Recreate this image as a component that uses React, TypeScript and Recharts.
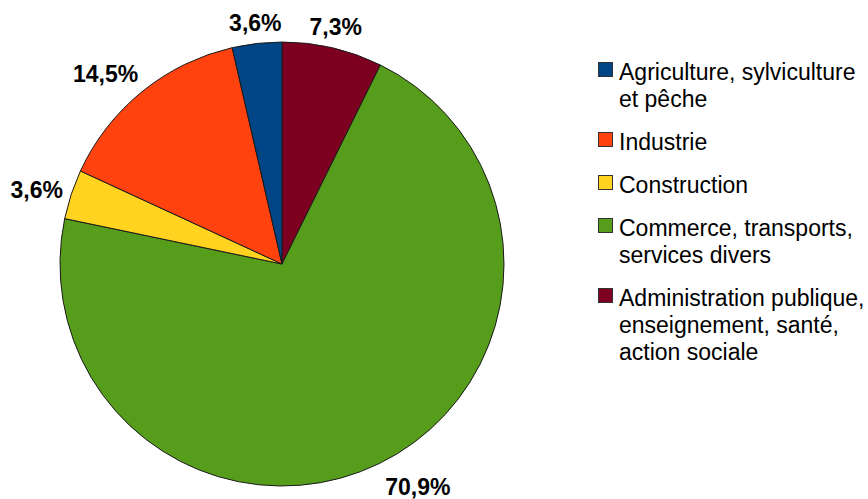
import { Cell, Legend, Pie, PieChart } from 'recharts'

// legend order (top to bottom)
const categories = [
  'Agriculture, sylviculture et pêche',
  'Industrie',
  'Construction',
  'Commerce, transports, services divers',
  'Administration publique, enseignement, santé, action sociale',
]
const shares = [3.6, 14.5, 3.6, 70.9, 7.3]
const colors = ['#004586', '#ff420e', '#ffd320', '#579d1c', '#7e0021']
const legendLines = [
  ['Agriculture, sylviculture', 'et pêche'],
  ['Industrie'],
  ['Construction'],
  ['Commerce, transports,', 'services divers'],
  ['Administration publique,', 'enseignement, santé,', 'action sociale'],
]

// the pie runs clockwise from 12 o'clock in reverse legend order
const pieData = categories
  .map((name, i) => ({ name, value: shares[i], color: colors[i] }))
  .reverse()

const FONT = '"Liberation Sans", Arial, sans-serif'

const renderLabel = (props: any) => {
  const { cx, cy, midAngle, outerRadius, value } = props
  const r = outerRadius + 14
  const rad = (midAngle * Math.PI) / 180
  const c = Math.cos(rad)
  const s = Math.sin(rad)
  const x = cx + r * c
  const y = cy - r * s
  const a = ((midAngle % 360) + 360) % 360
  const nearVertical = Math.abs(a - 90) < 22.5 || Math.abs(a - 270) < 22.5
  const nearHorizontal = a < 22.5 || a > 337.5 || Math.abs(a - 180) < 22.5
  const anchor = nearVertical ? 'middle' : c > 0 ? 'start' : 'end'
  const capH = 16.5
  let baseline = y + capH / 2
  if (!nearHorizontal) baseline = s > 0 ? y + 1 : y + capH + 2
  return (
    <text
      x={anchor === 'end' ? x + 5 : x}
      y={baseline}
      textAnchor={anchor}
      fill='#000'
      fontFamily={FONT}
      fontWeight='bold'
      fontSize={23}
    >
      {String(value).replace('.', ',')}%
    </text>
  )
}

const renderLegend = () => (
  <div style={{ fontFamily: FONT, fontSize: 23, lineHeight: '27px', color: '#000' }}>
    {legendLines.map((lines, i) => (
      <div key={i} style={{ display: 'flex', alignItems: 'flex-start', marginBottom: 16 }}>
        <div
          style={{
            width: 13,
            height: 13,
            marginTop: 3,
            background: colors[i],
            border: '1px solid #333',
            flexShrink: 0,
          }}
        />
        <div style={{ marginLeft: 6, whiteSpace: 'nowrap' }}>
          {lines.map((l, j) => (
            <div key={j}>{l}</div>
          ))}
        </div>
      </div>
    ))}
  </div>
)

export default function App() {
  return (
    <div style={{ position: 'absolute', left: 0, top: 0, background: '#fff' }}>
      <PieChart width={868} height={499} margin={{ top: 0, right: 0, bottom: 0, left: 0 }}>
        <Pie
          data={pieData}
          dataKey='value'
          nameKey='name'
          cx={282}
          cy={264}
          outerRadius={222}
          startAngle={90}
          endAngle={-270}
          stroke='#1a1a1a'
          strokeWidth={1}
          label={renderLabel}
          labelLine={false}
          isAnimationActive={false}
        >
          {pieData.map((d, i) => (
            <Cell key={i} fill={d.color} />
          ))}
        </Pie>
        <Legend
          content={renderLegend}
          layout='vertical'
          verticalAlign='top'
          align='right'
          wrapperStyle={{ left: 598, top: 59, width: 270 }}
        />
      </PieChart>
    </div>
  )
}
